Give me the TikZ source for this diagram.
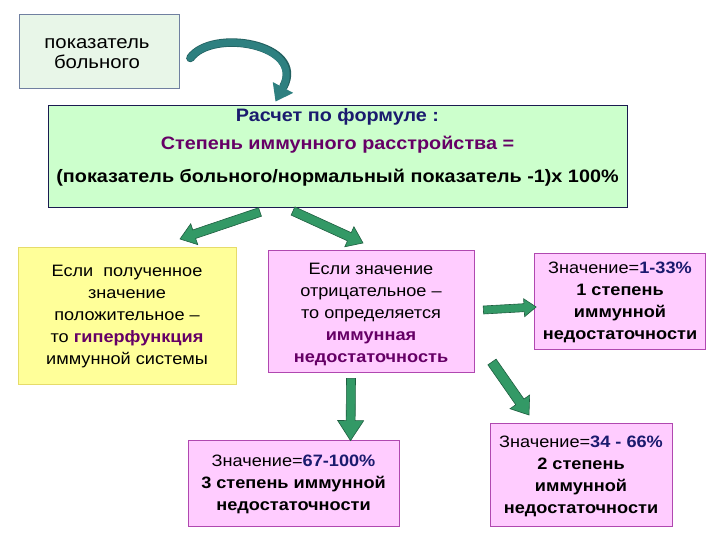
\documentclass[tikz,border=0pt]{standalone}
\usepackage{fontspec}
\setmainfont{Liberation Sans}[FakeStretch=1.1]
\usetikzlibrary{calc,arrows.meta}
\definecolor{bAfill}{HTML}{E8F6E8}
\definecolor{bAdraw}{HTML}{7080A0}
\definecolor{formfill}{HTML}{CCFFCC}
\definecolor{formdraw}{HTML}{1A1A50}
\definecolor{yelfill}{HTML}{FFFF99}
\definecolor{yeldraw}{HTML}{E6DC6A}
\definecolor{pinkfill}{HTML}{FFCCFF}
\definecolor{pinkdraw}{HTML}{B048B0}
\definecolor{navytxt}{HTML}{1A1A6E}
\definecolor{purptxt}{HTML}{660066}
\definecolor{gfill}{HTML}{339966}
\definecolor{gdraw}{HTML}{1E5E40}
\definecolor{tealarrow}{HTML}{2E8080}
\newcommand{\nv}[1]{\textbf{\color{navytxt}#1}}
\newcommand{\pp}[1]{\textbf{\color{purptxt}#1}}
\newcommand{\greenarrow}[5]{%
  \draw[garrow] let \p1=($(#2)-(#1)$), \n1={atan2(\y1,\x1)}, \n2={veclen(\x1,\y1)} in
  ($(#1)+(\n1+90:#3)$) -- ($(#1)+(\n1:{\n2-#5})+(\n1+90:#3)$) --
  ($(#1)+(\n1:{\n2-#5})+(\n1+90:#4)$) -- (#2) --
  ($(#1)+(\n1:{\n2-#5})+(\n1-90:#4)$) -- ($(#1)+(\n1:{\n2-#5})+(\n1-90:#3)$) --
  ($(#1)+(\n1-90:#3)$) -- cycle;}
\begin{document}
\begin{tikzpicture}[x=1pt,y=1pt,
  box/.style={draw, line width=0.8pt, inner sep=0pt},
  txt/.style={align=center, inner sep=0pt, font=\fontsize{16.5}{22}\selectfont},
  garrow/.style={fill=gfill, draw=gdraw, line width=0.6pt, line join=miter}]
\useasboundingbox (0,0) rectangle (720,-540);
\fill[white] (0,0) rectangle (720,-540);

% boxes
\node[box, fill=bAfill, draw=bAdraw, minimum width=160, minimum height=74] (pb) at (99,-51) {};
\node[txt, font=\fontsize{18.5}{20}\selectfont] (pbt) at ($(pb.center)+(-2,-3)$) {показатель\\больного};
\node[box, fill=formfill, draw=formdraw, minimum width=579, minimum height=102] (form) at (337.5,-156) {};
\node[align=center, inner sep=0pt, font=\fontsize{18}{28}\selectfont\bfseries] (formtxt) at ($(form.center)+(0,9)$)
  {{\color{navytxt}Расчет по формуле :}\\
   {\color{purptxt}Степень иммунного расстройства =}\\[5pt]
   (показатель больного/нормальный показатель -1)х 100\%};
\node[box, fill=yelfill, draw=yeldraw, minimum width=218, minimum height=137] (yel) at (127,-315.5) {};
\node[txt] (yelt) at ($(yel.center)+(0,-1.5)$)
  {Если \ полученное\\значение\\положительное –\\то \pp{гиперфункция}\\иммунной системы};
\node[box, fill=pinkfill, draw=pinkdraw, minimum width=206, minimum height=122] (neg) at (371,-311) {};
\node[txt] (negt) at ($(neg.center)+(0,-3.5)$)
  {Если значение\\отрицательное –\\то определяется\\\pp{иммунная}\\\pp{недостаточность}};
\node[box, fill=pinkfill, draw=pinkdraw, minimum width=171, minimum height=96] (d1) at (620,-301) {};
\node[txt] (d1t) at ($(d1.center)+(0,-1.5)$)
  {Значение=\nv{1-33\%}\\\textbf{1 степень}\\\textbf{иммунной}\\\textbf{недостаточности}};
\node[box, fill=pinkfill, draw=pinkdraw, minimum width=211, minimum height=86] (d3) at (293.5,-483) {};
\node[txt] (d3t) at ($(d3.center)+(0,-1.5)$)
  {Значение=\nv{67-100\%}\\\textbf{3 степень иммунной}\\\textbf{недостаточности}};
\node[box, fill=pinkfill, draw=pinkdraw, minimum width=182, minimum height=103] (d2) at (581,-474.5) {};
\node[txt] (d2t) at ($(d2.center)+(0,-1.5)$)
  {Значение=\nv{34 - 66\%}\\\textbf{2 степень}\\\textbf{иммунной}\\\textbf{недостаточности}};

% curved arrow
\coordinate (cs) at ($(pb.east)+(11,-7)$);
\coordinate (ce) at ($(form.north)+(-62,3)$);
\draw[tealarrow!75!black, line width=8.5pt, line cap=round] (cs) .. controls (212,-28) and (306,-44) .. ($(ce)+(8,15)$);
\draw[tealarrow, line width=7pt, line cap=round, -{Triangle[width=22pt,length=16pt]}] (cs) .. controls (212,-28) and (306,-44) .. (ce);

% green arrows
\coordinate (a1s) at (260,-212);
\coordinate (a1e) at (180,-239);
\coordinate (a2s) at (293,-211);
\coordinate (a2e) at (363,-243);
\coordinate (a3s) at ($(neg.east)+(9,1)$);
\coordinate (a3e) at ($(d1.west)+(2,-6)$);
\coordinate (a4s) at ($(neg.south)+(-20,-6)$);
\coordinate (a4e) at ($(d3.north)+(57,-1)$);
\coordinate (a5s) at (492,-362);
\coordinate (a5e) at (529,-415);
\greenarrow{a1s}{a1e}{4.5pt}{11pt}{15pt}
\greenarrow{a2s}{a2e}{4.5pt}{11pt}{15pt}
\greenarrow{a3s}{a3e}{4pt}{9pt}{12pt}
\greenarrow{a4s}{a4e}{4.5pt}{13pt}{20pt}
\greenarrow{a5s}{a5e}{5pt}{12pt}{16pt}
\end{tikzpicture}
\end{document}
